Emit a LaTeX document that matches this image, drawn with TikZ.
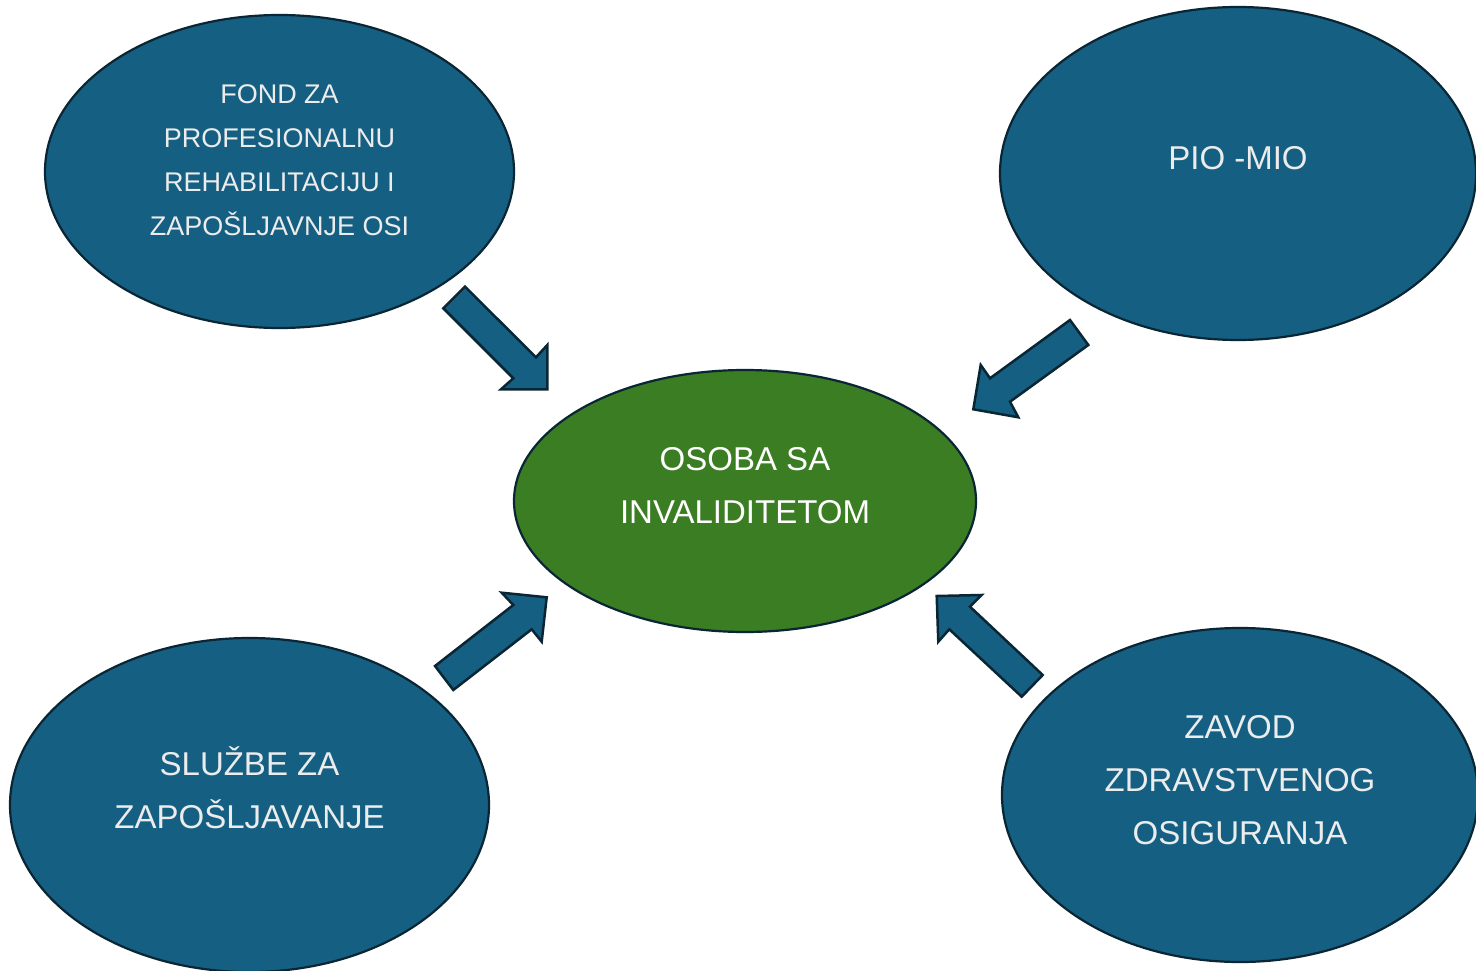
\documentclass[tikz,border=0pt]{standalone}
\usepackage{fontspec}
\setmainfont{Liberation Sans}
\usetikzlibrary{shapes.geometric}
\definecolor{blu}{HTML}{156082}
\definecolor{grn}{HTML}{3B7D23}
\definecolor{edge}{HTML}{0A2533}
\definecolor{txtgrey}{HTML}{ECECEC}
\tikzset{
  blob/.style={ellipse, draw=edge, line width=2.2pt, inner sep=0pt},
  bluebox/.style={blob, fill=blu},
  greenbox/.style={blob, fill=grn},
  smalltxt/.style={text=txtgrey, align=center, font=\fontsize{27}{44}\selectfont},
  bigtxt/.style={text=txtgrey, align=center, font=\fontsize{33}{53}\selectfont},
  blockarrow/.style={draw=edge, fill=blu, line width=2.5pt, line join=miter}
}
\begin{document}
\begin{tikzpicture}[x=1pt,y=-1pt]
\useasboundingbox (0,0) rectangle (1476,971);
\clip (0,0) rectangle (1476,971);
\fill[white] (0,0) rectangle (1476,971);

% ellipses
\node[bluebox, minimum width=469pt, minimum height=313pt] (fond) at (279.5,171.5) {};
\node[bluebox, minimum width=476pt, minimum height=333pt] (pio) at (1238,173.5) {};
\node[greenbox, minimum width=462pt, minimum height=262pt] (osoba) at (745,501) {};
\node[bluebox, minimum width=479pt, minimum height=334pt] (sluzbe) at (249.5,805) {};
\node[bluebox, minimum width=476pt, minimum height=334pt] (zavod) at (1240,795) {};

% texts
\node[smalltxt] (tfond) at ([yshift=11pt]fond.center) {FOND ZA\\PROFESIONALNU\\REHABILITACIJU I\\ZAPOŠLJAVNJE OSI};
\node[bigtxt] (tpio) at ([yshift=15pt]pio.center) {PIO -MIO};
\node[bigtxt, text=white] (tosoba) at ([yshift=15.5pt]osoba.center) {OSOBA SA\\INVALIDITETOM};
\node[bigtxt] (tsluzbe) at ([yshift=17.5pt]sluzbe.center) {SLUŽBE ZA\\ZAPOŠLJAVANJE};
\node[bigtxt] (tzavod) at ([yshift=15pt]zavod.center) {ZAVOD\\ZDRAVSTVENOG\\OSIGURANJA};

% block arrows
\draw[blockarrow] (443.3,308.3) -- (465,286.7) -- (536,357.3) -- (547.3,345)
  -- (547.3,389.3) -- (501,389.3) -- (513.3,378.3) -- cycle;
\draw[blockarrow] (1070,320) -- (1088.3,345) -- (1010,401.7) -- (1018.3,417.3)
  -- (973.3,409.3) -- (980.7,365) -- (990,378.3) -- cycle;
\draw[blockarrow] (453.3,690) -- (435,666) -- (513.3,605) -- (501.7,592.7)
  -- (546.7,597.3) -- (541.7,641.7) -- (531.7,629.3) -- cycle;
\draw[blockarrow] (1042.7,675) -- (1021.7,696.7) -- (949.3,629.3) -- (938.3,641.7)
  -- (936.7,596) -- (981.7,595) -- (970,606.7) -- cycle;
\end{tikzpicture}
\end{document}
